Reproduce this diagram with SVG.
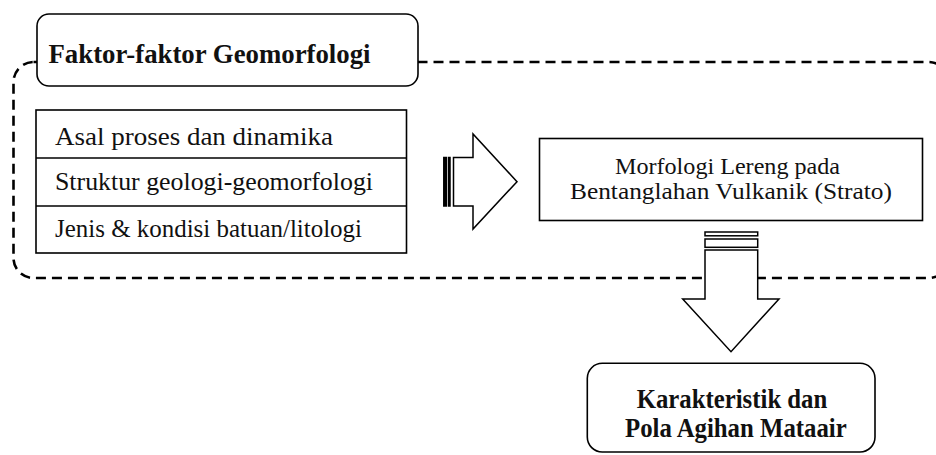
<svg xmlns="http://www.w3.org/2000/svg" width="936" height="455" viewBox="0 0 936 455">
<style>
.box{fill:#fff;stroke:#000;stroke-width:1.6}
.dash{fill:none;stroke:#000;stroke-width:2.6;stroke-dasharray:10 6}
.arr{fill:#fff;stroke:#000;stroke-width:1.5;stroke-linejoin:miter}
.t{font-family:"Liberation Serif","Times New Roman",serif;font-size:26px;fill:#111}
.m{font-family:"Liberation Serif","Times New Roman",serif;font-size:24px;fill:#111}
.b{font-family:"Liberation Serif","Times New Roman",serif;font-size:27px;font-weight:bold;fill:#111}
</style>
<rect width="936" height="455" fill="#fff"/>
<g id="group-frame">
<rect class="dash" x="13.5" y="62" width="935" height="216" rx="20" ry="20"/>
</g>
<g id="node-title">
<rect class="box" x="37" y="14" width="381" height="72" rx="12" ry="12"/>
<text class="b" x="48.5" y="63" textLength="322" lengthAdjust="spacingAndGlyphs">Faktor-faktor Geomorfologi</text>
</g>
<g id="node-factors">
<rect class="box" x="36" y="110" width="370.5" height="143"/>
<line x1="36" y1="158" x2="406.5" y2="158" stroke="#000" stroke-width="1.6"/>
<line x1="36" y1="206" x2="406.5" y2="206" stroke="#000" stroke-width="1.6"/>
<text class="t" x="55" y="145" textLength="278" lengthAdjust="spacingAndGlyphs">Asal proses dan dinamika</text>
<text class="t" x="55" y="190" textLength="318" lengthAdjust="spacingAndGlyphs">Struktur geologi-geomorfologi</text>
<text class="t" x="55" y="237" textLength="307" lengthAdjust="spacingAndGlyphs">Jenis &amp; kondisi batuan/litologi</text>
</g>
<g id="node-morfologi">
<rect class="box" x="539.5" y="138.5" width="383" height="82"/>
<text class="m" x="615" y="174" textLength="225" lengthAdjust="spacingAndGlyphs">Morfologi Lereng pada</text>
<text class="m" x="570" y="199" textLength="322" lengthAdjust="spacingAndGlyphs">Bentanglahan Vulkanik (Strato)</text>
</g>
<g id="connectors">
<g id="arrow-right">
<rect class="arr" x="443.8" y="157.5" width="2.6" height="48.5" style="fill:#000"/>
<rect class="arr" x="448.6" y="157.5" width="1.4" height="48.5"/>
<path class="arr" d="M453.5,157.5 H473 V134 L517,181.7 L473,229 V206 H453.5 Z"/>
</g>
<g id="arrow-down">
<rect class="arr" x="705" y="232" width="52.7" height="3.8"/>
<rect class="arr" x="705" y="239" width="52.7" height="8.3"/>
<path class="arr" d="M705,250 H757.7 V299 H779 L731,351.7 L682.7,299 H705 Z"/>
</g>
</g>
<g id="node-result">
<rect class="box" x="587.3" y="363.3" width="287.7" height="88.7" rx="15" ry="15"/>
<text class="b" x="636.7" y="408" textLength="190.6" lengthAdjust="spacingAndGlyphs">Karakteristik dan</text>
<text class="b" x="625" y="436.7" textLength="221.7" lengthAdjust="spacingAndGlyphs">Pola Agihan Mataair</text>
</g>
</svg>
